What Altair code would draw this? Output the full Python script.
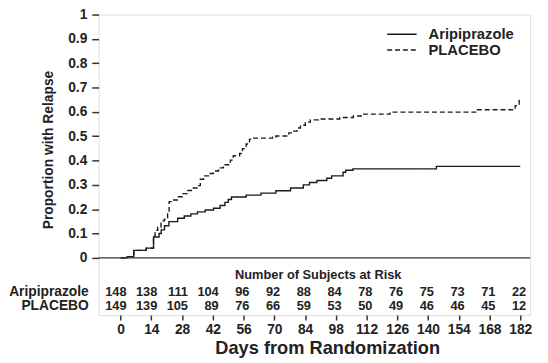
import altair as alt
import pandas as pd

FONT = "Liberation Sans"

# Kaplan-Meier step points (day, proportion with relapse)
ari_days = [0, 3, 6, 11.7, 15, 17.5, 18.5, 20, 22, 26, 29, 32, 35, 38.5, 42.3, 45.3, 47.5, 49, 50.5,
            57.2, 63.9, 70.7, 77.4, 83.2, 86, 89.4, 93.9, 96.1, 101.3, 102.5, 105.8, 143.8, 182]
ari_prop = [0, 0.005, 0.031, 0.04, 0.086, 0.1, 0.115, 0.132, 0.149, 0.163, 0.172, 0.181, 0.189, 0.197,
            0.204, 0.215, 0.228, 0.24, 0.25, 0.258, 0.266, 0.276, 0.287, 0.3, 0.31, 0.318, 0.327, 0.337,
            0.352, 0.36, 0.366, 0.376, 0.376]

pla_days = [0, 3, 6, 11.7, 15, 15.7, 16.9, 18.4, 19.9, 21.4, 22.1, 23.6, 25.9, 28.1, 30.3, 32.6, 35.6,
            36.3, 37.8, 40.1, 42.3, 44.6, 46.8, 50, 51.3, 54.2, 55.5, 57.2, 58.7, 59.5, 69.2, 70.7, 76.6,
            78.9, 80.4, 81.9, 84.1, 86.4, 90.1, 99.8, 106, 109.5, 122.7, 162, 179.7, 181.5, 182]
pla_prop = [0, 0.005, 0.031, 0.04, 0.09, 0.113, 0.126, 0.152, 0.159, 0.192, 0.231, 0.238, 0.251, 0.264,
            0.277, 0.287, 0.297, 0.323, 0.337, 0.347, 0.357, 0.37, 0.383, 0.402, 0.42, 0.429, 0.449,
            0.468, 0.488, 0.492, 0.496, 0.501, 0.514, 0.521, 0.534, 0.545, 0.558, 0.567, 0.571, 0.577,
            0.583, 0.591, 0.599, 0.609, 0.626, 0.657, 0.657]

groups = ["Aripiprazole", "PLACEBO"]

risk_days = [0, 14, 28, 42, 56, 70, 84, 98, 112, 126, 140, 154, 168, 182]
ari_risk = [148, 138, 111, 104, 96, 92, 88, 84, 78, 76, 75, 73, 71, 22]
pla_risk = [149, 139, 105, 89, 76, 66, 59, 53, 50, 49, 46, 46, 45, 12]

y_ticks = [0, 0.1, 0.2, 0.3, 0.4, 0.5, 0.6, 0.7, 0.8, 0.9, 1]
x_ticks = risk_days

header_text = "Number of Subjects at Risk"
header_day = 90
header_y = -0.069
row_y = [-0.141, -0.2]

# legend placement (in data units, top-right inside the plot)
legend_x = [121.4, 134.8]
legend_text_x = 140.2
legend_y = [0.919, 0.854]

curves = pd.concat([
    pd.DataFrame({"day": ari_days, "p": ari_prop, "group": groups[0]}),
    pd.DataFrame({"day": pla_days, "p": pla_prop, "group": groups[1]}),
])

risk = pd.concat([
    pd.DataFrame({"day": risk_days, "n": ari_risk, "y": row_y[0]}),
    pd.DataFrame({"day": risk_days, "n": pla_risk, "y": row_y[1]}),
])

rows = pd.DataFrame({"label": groups, "y": row_y})
header = pd.DataFrame({"label": [header_text], "day": [header_day], "y": [header_y]})
leg = pd.DataFrame({"group": groups, "x1": [legend_x[0]] * 2, "x2": [legend_x[1]] * 2,
                    "tx": [legend_text_x] * 2, "y": legend_y})

xscale = alt.Scale(domain=[-10, 186.5], nice=False, zero=False)
yscale = alt.Scale(domain=[-0.235, 1.0], nice=False, zero=False)
dash_scale = alt.Scale(domain=groups, range=[[1, 0], [5, 3]])

x_axis = alt.Axis(
    values=x_ticks, tickCount=50, title="Days from Randomization", grid=False, domain=False,
    labelOverlap=False, labelFlush=False,
    tickSize=5, tickWidth=1.5, tickColor="#333",
    labelFont=FONT, labelFontSize=14, labelFontWeight="bold", labelColor="#222", labelPadding=3,
    titleFont=FONT, titleFontSize=18.5, titleFontWeight="bold", titleColor="#222",
    titleX=232, titleY=33, titleAlign="center", titleBaseline="middle",
)
y_axis = alt.Axis(
    values=y_ticks, tickCount=50, format="~g", title="Proportion with Relapse", grid=False, domain=False,
    labelOverlap=False, labelFlush=False,
    tickSize=7, tickWidth=1.5, tickColor="#333",
    labelFont=FONT, labelFontSize=14, labelFontWeight="bold", labelColor="#222", labelPadding=5,
    titleFont=FONT, titleFontSize=14, titleFontWeight="bold", titleColor="#222",
    titleX=-51, titleY=137, titleAlign="center", titleBaseline="middle",
)

lines = alt.Chart(curves).mark_line(interpolate="step-after", color="#1a1a1a", strokeWidth=1.4).encode(
    x=alt.X("day:Q", scale=xscale, axis=x_axis),
    y=alt.Y("p:Q", scale=yscale, axis=y_axis),
    strokeDash=alt.StrokeDash("group:N", scale=dash_scale, legend=None),
    detail="group:N",
)

leg_lines = alt.Chart(leg).mark_rule(color="#1a1a1a", strokeWidth=1.5).encode(
    x=alt.X("x1:Q", scale=xscale), x2="x2:Q",
    y=alt.Y("y:Q", scale=yscale),
    strokeDash=alt.StrokeDash("group:N", scale=dash_scale, legend=None),
)
leg_text = alt.Chart(leg).mark_text(font=FONT, fontSize=15, fontWeight="bold", color="#222",
                                    align="left", baseline="middle").encode(
    x=alt.X("tx:Q", scale=xscale), y=alt.Y("y:Q", scale=yscale), text="group:N"
)

zero = alt.Chart(pd.DataFrame({"y0": [0]})).mark_rule(color="#333", strokeWidth=1.5).encode(
    y=alt.Y("y0:Q", scale=yscale)
)

head = alt.Chart(header).mark_text(font=FONT, fontSize=13, fontWeight="bold", color="#222",
                                   align="center", baseline="middle").encode(
    x=alt.X("day:Q", scale=xscale), y=alt.Y("y:Q", scale=yscale), text="label:N"
)

nums = alt.Chart(risk).mark_text(font=FONT, fontSize=13, fontWeight="bold", color="#222",
                                 align="right", baseline="middle", dx=6).encode(
    x=alt.X("day:Q", scale=xscale), y=alt.Y("y:Q", scale=yscale), text="n:Q"
)

row_labels = alt.Chart(rows).mark_text(font=FONT, fontSize=14, fontWeight="bold", color="#222",
                                       align="right", baseline="middle").encode(
    x=alt.value(-10), y=alt.Y("y:Q", scale=yscale), text="label:N"
)

chart = alt.layer(lines, leg_lines, leg_text, zero, head, nums, row_labels).properties(
    width=438, height=305,
    autosize=alt.AutoSizeParams(type="none"),
    padding={"left": 92, "top": 4, "right": 10, "bottom": 46},
).configure_view(stroke="#333", strokeWidth=2).configure(background="white")

chart.save("out.html", embed_options={"renderer": "svg", "actions": False})
